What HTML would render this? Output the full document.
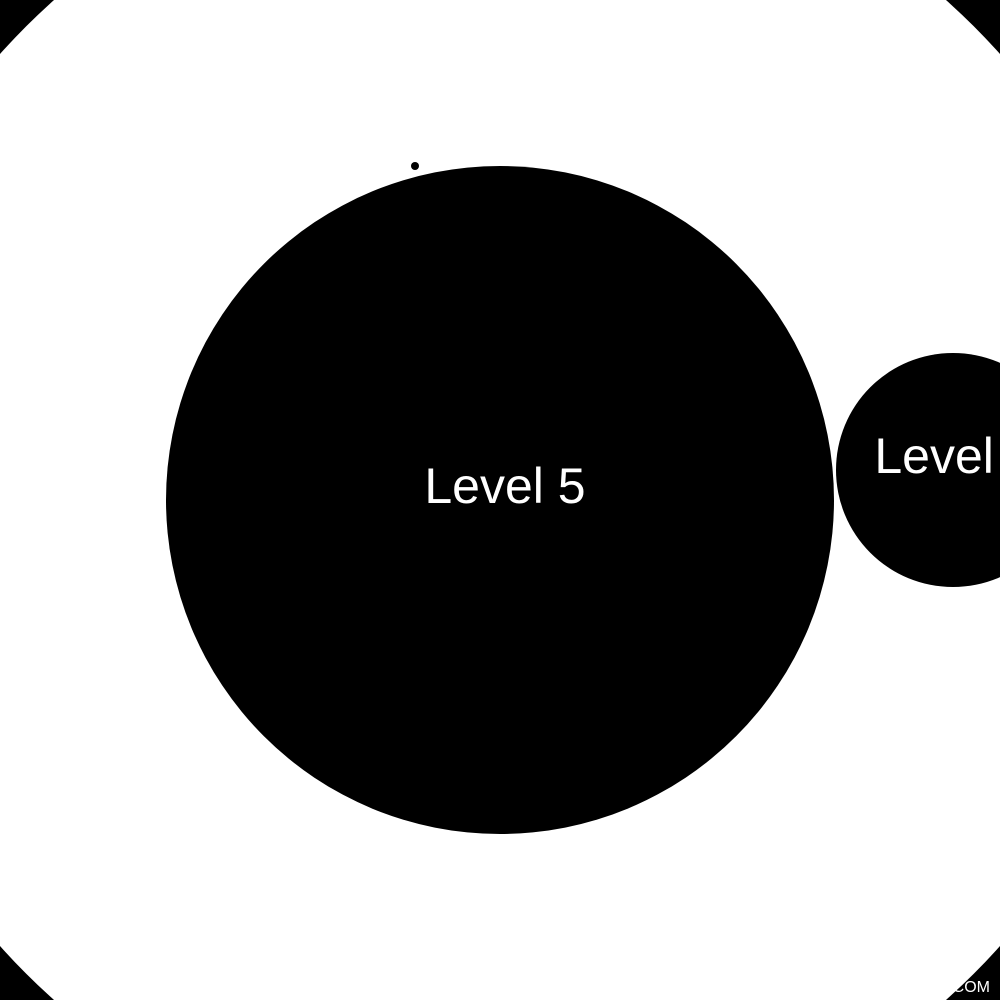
<!DOCTYPE html>
<html><head><meta charset="utf-8"><style>html,body{margin:0;padding:0;background:#000;width:1000px;height:1000px;overflow:hidden}</style></head>
<body>
<svg id="chart" width="1000" height="1000" viewBox="0 0 1000 1000" xmlns="http://www.w3.org/2000/svg" style="display:block;font-family:'Liberation Sans',sans-serif;overflow:hidden">
<rect width="1000" height="1000" fill="#000"/>
<text x="990" y="992" text-anchor="end" font-size="16" fill="#fff">AMCHARTS.COM</text>
<circle cx="500" cy="500" r="670" fill="#fff"/>
<g id="nodes"></g>
</svg>
<script>
const labels = ["Level 5", "Level 4"];
const radii = [334, 117];
const cxs = [500, 953];
const cys = [500, 470];
const g = document.getElementById('nodes');
const ns = 'http://www.w3.org/2000/svg';
for (let i = 0; i < labels.length; i++) {
  const c = document.createElementNS(ns, 'circle');
  c.setAttribute('cx', cxs[i]); c.setAttribute('cy', cys[i]); c.setAttribute('r', radii[i]);
  c.setAttribute('fill', '#000');
  
  
  g.appendChild(c);
  const t = document.createElementNS(ns, 'text');
  t.setAttribute('x', cxs[i] + 5 - (i === 1 ? 3 : 0)); t.setAttribute('y', cys[i] + 3);
  t.setAttribute('text-anchor', 'middle'); t.setAttribute('font-size', '50'); t.setAttribute('fill', '#fff');
  t.textContent = labels[i];
  
  
  g.appendChild(t);
}
const d = document.createElementNS(ns, 'circle');
d.setAttribute('cx', 415); d.setAttribute('cy', 166); d.setAttribute('r', 4); d.setAttribute('fill', '#000');


g.appendChild(d);
</script>
</body></html>
